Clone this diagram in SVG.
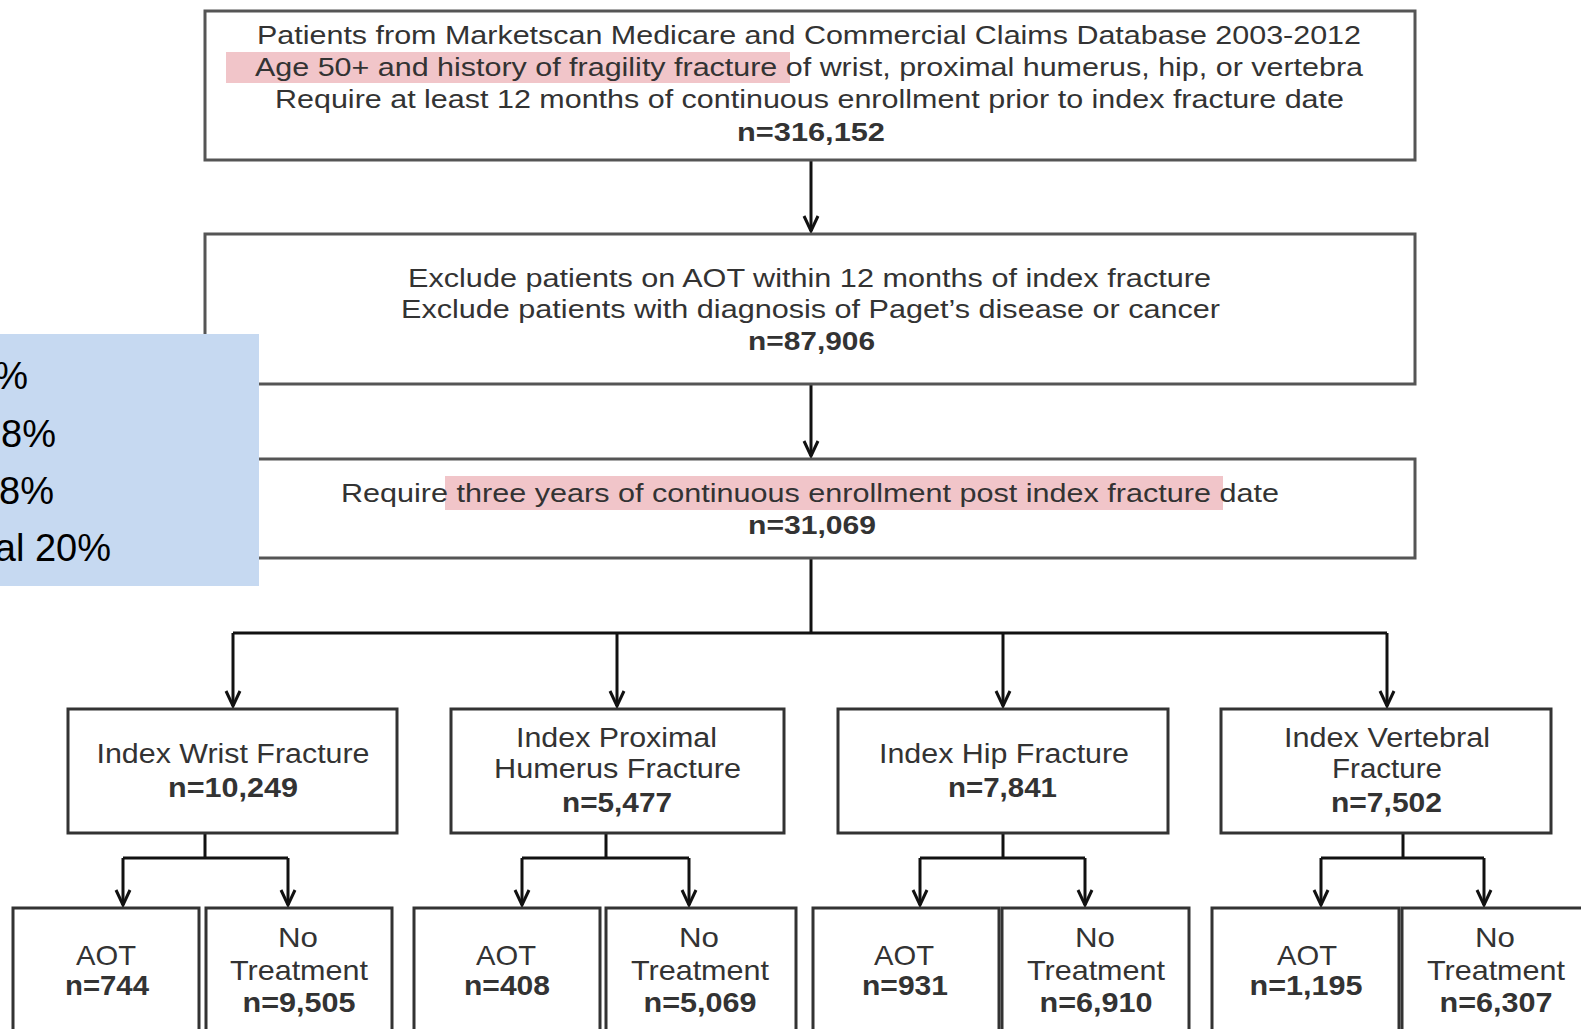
<svg xmlns="http://www.w3.org/2000/svg" width="1581" height="1029" viewBox="0 0 1581 1029">
<style>
.box{fill:#fff;stroke:#555;stroke-width:3}
.box2{fill:#fff;stroke:#333;stroke-width:3}
.t{font-family:"Liberation Sans",Arial,sans-serif;font-size:25px;fill:#333;text-anchor:middle}
.m{font-size:27px}
.s{font-size:28px}
.b{font-weight:bold}
.conn{stroke:#111;stroke-width:3;fill:none}
.hl{fill:#f1c5c9}
.side{font-family:"Liberation Sans",Calibri,sans-serif;font-size:38px;fill:#000;text-anchor:end}
</style>
<defs>
<marker id="ah" markerUnits="userSpaceOnUse" viewBox="-20 -10 24 20" refX="0" refY="0" markerWidth="24" markerHeight="20" orient="auto" overflow="visible">
<path d="M-15,-7 L0,0 L-15,7" fill="none" stroke="#111" stroke-width="3"/>
</marker>
</defs>
<rect width="1581" height="1029" fill="#fff"/>

<g id="connectors">
<path class="conn" d="M811,160 V231" marker-end="url(#ah)"/>
<path class="conn" d="M811,384 V456" marker-end="url(#ah)"/>
<path class="conn" d="M811,558 V633"/>
<path class="conn" d="M233,633 H1387"/>
<path class="conn" d="M233,633 V706" marker-end="url(#ah)"/>
<path class="conn" d="M617,633 V706" marker-end="url(#ah)"/>
<path class="conn" d="M1003,633 V706" marker-end="url(#ah)"/>
<path class="conn" d="M1387,633 V706" marker-end="url(#ah)"/>
<path class="conn" d="M205,833 V858 M123,858 H288"/>
<path class="conn" d="M123,858 V905" marker-end="url(#ah)"/>
<path class="conn" d="M288,858 V905" marker-end="url(#ah)"/>
<path class="conn" d="M606,833 V858 M522,858 H689"/>
<path class="conn" d="M522,858 V905" marker-end="url(#ah)"/>
<path class="conn" d="M689,858 V905" marker-end="url(#ah)"/>
<path class="conn" d="M1003,833 V858 M920,858 H1085"/>
<path class="conn" d="M920,858 V905" marker-end="url(#ah)"/>
<path class="conn" d="M1085,858 V905" marker-end="url(#ah)"/>
<path class="conn" d="M1403,833 V858 M1321,858 H1484"/>
<path class="conn" d="M1321,858 V905" marker-end="url(#ah)"/>
<path class="conn" d="M1484,858 V905" marker-end="url(#ah)"/>
</g>

<g id="n-source">
<rect class="box" x="205" y="11" width="1210" height="149"/>
<rect class="hl" x="226" y="52" width="564" height="31"/>
<text class="t" x="809" y="44" textLength="1104" lengthAdjust="spacingAndGlyphs">Patients from Marketscan Medicare and Commercial Claims Database 2003-2012</text>
<text class="t" x="809" y="76" textLength="1108" lengthAdjust="spacingAndGlyphs">Age 50+ and history of fragility fracture of wrist, proximal humerus, hip, or vertebra</text>
<text class="t" x="809.5" y="108" textLength="1069" lengthAdjust="spacingAndGlyphs">Require at least 12 months of continuous enrollment prior to index fracture date</text>
<text class="t b" x="811" y="141" textLength="148" lengthAdjust="spacingAndGlyphs">n=316,152</text>
</g>

<g id="n-exclude">
<rect class="box" x="205" y="234" width="1210" height="150"/>
<text class="t" x="809.5" y="287" textLength="803" lengthAdjust="spacingAndGlyphs">Exclude patients on AOT within 12 months of index fracture</text>
<text class="t" x="810.5" y="318" textLength="819" lengthAdjust="spacingAndGlyphs">Exclude patients with diagnosis of Paget’s disease or cancer</text>
<text class="t b" x="811.5" y="350" textLength="127" lengthAdjust="spacingAndGlyphs">n=87,906</text>
</g>

<g id="n-require">
<rect class="box" x="205" y="459" width="1210" height="99"/>
<rect class="hl" x="445" y="476" width="778" height="34"/>
<text class="t" x="810" y="502" textLength="938" lengthAdjust="spacingAndGlyphs">Require three years of continuous enrollment post index fracture date</text>
<text class="t b" x="812" y="534" textLength="128" lengthAdjust="spacingAndGlyphs">n=31,069</text>
</g>

<g id="n-side">
<rect x="0" y="334" width="259" height="252" fill="#c6d9f1"/>
<text class="side" x="28" y="389">%</text>
<text class="side" x="56" y="447">8%</text>
<text class="side" x="54" y="504">8%</text>
<text class="side" x="111" y="561">al 20%</text>
</g>

<g id="n-wrist">
<rect class="box2" x="68" y="709" width="329" height="124"/>
<text class="t m" x="233" y="763" textLength="273" lengthAdjust="spacingAndGlyphs">Index Wrist Fracture</text>
<text class="t m b" x="233" y="797" textLength="130" lengthAdjust="spacingAndGlyphs">n=10,249</text>
</g>
<g id="n-humerus">
<rect class="box2" x="451" y="709" width="333" height="124"/>
<text class="t m" x="616.5" y="747" textLength="201" lengthAdjust="spacingAndGlyphs">Index Proximal</text>
<text class="t m" x="617.5" y="778" textLength="247" lengthAdjust="spacingAndGlyphs">Humerus Fracture</text>
<text class="t m b" x="617" y="812" textLength="110" lengthAdjust="spacingAndGlyphs">n=5,477</text>
</g>
<g id="n-hip">
<rect class="box2" x="838" y="709" width="330" height="124"/>
<text class="t m" x="1004" y="763" textLength="250" lengthAdjust="spacingAndGlyphs">Index Hip Fracture</text>
<text class="t m b" x="1002.5" y="797" textLength="109" lengthAdjust="spacingAndGlyphs">n=7,841</text>
</g>
<g id="n-vertebral">
<rect class="box2" x="1221" y="709" width="330" height="124"/>
<text class="t m" x="1387" y="747" textLength="206" lengthAdjust="spacingAndGlyphs">Index Vertebral</text>
<text class="t m" x="1387" y="778" textLength="110" lengthAdjust="spacingAndGlyphs">Fracture</text>
<text class="t m b" x="1386.5" y="812" textLength="111" lengthAdjust="spacingAndGlyphs">n=7,502</text>
</g>

<g id="n-wrist-aot">
<rect class="box2" x="13" y="908" width="186" height="140"/>
<text class="t s" x="106" y="965" textLength="60" lengthAdjust="spacingAndGlyphs">AOT</text>
<text class="t s b" x="107" y="995" textLength="84" lengthAdjust="spacingAndGlyphs">n=744</text>
</g>
<g id="n-wrist-nt">
<rect class="box2" x="206" y="908" width="186" height="140"/>
<text class="t s" x="298" y="947" textLength="40" lengthAdjust="spacingAndGlyphs">No</text>
<text class="t s" x="299" y="980" textLength="138" lengthAdjust="spacingAndGlyphs">Treatment</text>
<text class="t s b" x="299" y="1012" textLength="113" lengthAdjust="spacingAndGlyphs">n=9,505</text>
</g>
<g id="n-humerus-aot">
<rect class="box2" x="414" y="908" width="186" height="140"/>
<text class="t s" x="506" y="965" textLength="60" lengthAdjust="spacingAndGlyphs">AOT</text>
<text class="t s b" x="507" y="995" textLength="86" lengthAdjust="spacingAndGlyphs">n=408</text>
</g>
<g id="n-humerus-nt">
<rect class="box2" x="606" y="908" width="190" height="140"/>
<text class="t s" x="699" y="947" textLength="40" lengthAdjust="spacingAndGlyphs">No</text>
<text class="t s" x="700" y="980" textLength="138" lengthAdjust="spacingAndGlyphs">Treatment</text>
<text class="t s b" x="700" y="1012" textLength="113" lengthAdjust="spacingAndGlyphs">n=5,069</text>
</g>
<g id="n-hip-aot">
<rect class="box2" x="813" y="908" width="186" height="140"/>
<text class="t s" x="904" y="965" textLength="60" lengthAdjust="spacingAndGlyphs">AOT</text>
<text class="t s b" x="905" y="995" textLength="86" lengthAdjust="spacingAndGlyphs">n=931</text>
</g>
<g id="n-hip-nt">
<rect class="box2" x="1002" y="908" width="187" height="140"/>
<text class="t s" x="1095" y="947" textLength="40" lengthAdjust="spacingAndGlyphs">No</text>
<text class="t s" x="1096" y="980" textLength="138" lengthAdjust="spacingAndGlyphs">Treatment</text>
<text class="t s b" x="1096" y="1012" textLength="113" lengthAdjust="spacingAndGlyphs">n=6,910</text>
</g>
<g id="n-vert-aot">
<rect class="box2" x="1212" y="908" width="187" height="140"/>
<text class="t s" x="1307" y="965" textLength="60" lengthAdjust="spacingAndGlyphs">AOT</text>
<text class="t s b" x="1306" y="995" textLength="113" lengthAdjust="spacingAndGlyphs">n=1,195</text>
</g>
<g id="n-vert-nt">
<rect class="box2" x="1402" y="908" width="190" height="140"/>
<text class="t s" x="1495" y="947" textLength="40" lengthAdjust="spacingAndGlyphs">No</text>
<text class="t s" x="1496" y="980" textLength="138" lengthAdjust="spacingAndGlyphs">Treatment</text>
<text class="t s b" x="1496" y="1012" textLength="113" lengthAdjust="spacingAndGlyphs">n=6,307</text>
</g>
</svg>
